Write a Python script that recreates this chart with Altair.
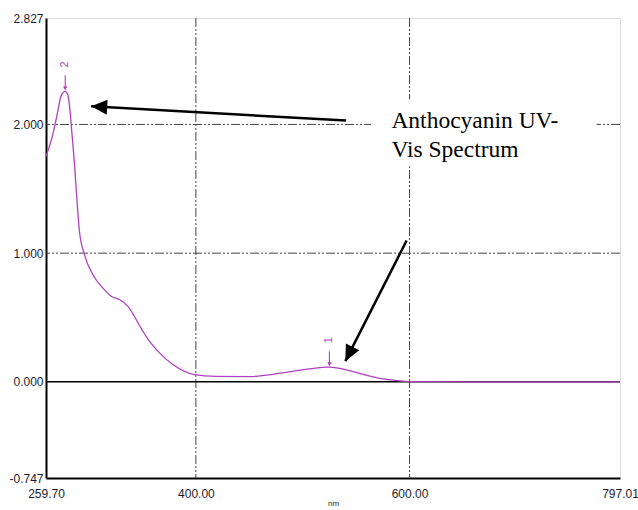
import altair as alt
import pandas as pd

# Spectrum (wavelength nm, absorbance)
wavelength = [259.7, 266.1, 270.7, 273.9, 277.7, 280.3, 282.0, 283.8, 286.4, 288.5,
              291.0, 295.7, 303.5, 312.8, 320.7, 328.5, 336.2, 350.3, 356.5, 365.9,
              378.4, 398.6, 419.0, 450.0, 465.7, 487.5, 506.3, 525.0, 543.7, 559.3,
              574.9, 587.4, 600.0, 650.0, 700.0, 797.01]
absorbance = [1.752, 1.923, 2.100, 2.224, 2.257, 2.225, 2.120, 1.946, 1.688, 1.430,
              1.170, 0.989, 0.834, 0.730, 0.665, 0.640, 0.588, 0.394, 0.316, 0.225,
              0.135, 0.057, 0.042, 0.040, 0.052, 0.078, 0.101, 0.114, 0.088, 0.052,
              0.023, 0.011, 0.002, 0.000, 0.000, 0.000]

# Peak picks
peak_wl = [277.7, 525.0]
peak_abs = [2.257, 0.114]
peak_label = ["2", "1"]

# Axis ticks
x_ticks = [259.70, 400.00, 600.00, 797.01]
y_ticks = [-0.747, 0.0, 1.0, 2.0, 2.827]
x_grid = [400.0, 600.0]
y_grid = [1.0, 2.0]

# Annotation (data coordinates)
note_lines = ["Anthocyanin UV-", "Vis Spectrum"]
note_x = 583.0
note_y = 1.972
box_x = [564.0, 775.0]
box_y = [1.675, 2.195]
arrow_x = [540.6, 597.3]
arrow_y = [2.030, 1.098]
arrow_x2 = [302.0, 539.9]
arrow_y2 = [2.141, 0.161]
arrow_angle = [273.2, 206.9]

spec = pd.DataFrame({"wl": wavelength, "abs": absorbance})
peaks = pd.DataFrame({"wl": peak_wl, "abs": peak_abs, "label": peak_label})
arrows = pd.DataFrame({"x": arrow_x, "y": arrow_y, "x2": arrow_x2, "y2": arrow_y2,
                       "angle": arrow_angle})

xs = alt.Scale(domain=[259.7, 797.01], nice=False, zero=False)
ys = alt.Scale(domain=[-0.747, 2.827], nice=False, zero=False)

PURPLE = "#b040c0"
LABEL_C = "#1c1c2c"

base_line = alt.Chart(spec).mark_line(color=PURPLE, strokeWidth=1.3, interpolate="monotone").encode(
    x=alt.X("wl:Q", scale=xs,
            axis=alt.Axis(values=x_ticks, format=".2f", title="nm", grid=False,
                          ticks=False, labelPadding=10, labelFont="Liberation Sans",
                          labelFontSize=12, labelColor=LABEL_C, domainColor="#000",
                          domainWidth=2, titleFontSize=8, titlePadding=0,
                          titleFont="Liberation Sans", titleFontWeight="normal",
                          titleColor=LABEL_C,
                          labelFlush=False, labelOverlap=False)),
    y=alt.Y("abs:Q", scale=ys,
            axis=alt.Axis(values=y_ticks, grid=False, ticks=False, title=None,
                          labelExpr="datum.value < 0 ? '-' + format(-datum.value, '.3f') : format(datum.value, '.3f')",
                          labelPadding=3, labelFont="Liberation Sans", labelFontSize=12,
                          labelColor=LABEL_C, domainColor="#000", domainWidth=2,
                          labelFlush=False, labelOverlap=False)),
)

vgrid = alt.Chart(pd.DataFrame({"g": x_grid})).mark_rule(
    color="#444", strokeWidth=1, strokeDash=[9, 2, 2, 2, 2, 2]).encode(x=alt.X("g:Q", scale=xs))
hgrid = alt.Chart(pd.DataFrame({"g": y_grid})).mark_rule(
    color="#444", strokeWidth=1, strokeDash=[9, 2, 2, 2, 2, 2]).encode(y=alt.Y("g:Q", scale=ys))
zero = alt.Chart(pd.DataFrame({"g": [0.0]})).mark_rule(
    color="#000", strokeWidth=1.5).encode(y=alt.Y("g:Q", scale=ys))

box = alt.Chart(pd.DataFrame({"x": [box_x[0]], "x2": [box_x[1]], "y": [box_y[0]], "y2": [box_y[1]]})).mark_rect(
    color="white").encode(x=alt.X("x:Q", scale=xs), x2="x2:Q", y=alt.Y("y:Q", scale=ys), y2="y2:Q")

peak_text = alt.Chart(peaks).mark_text(
    color=PURPLE, fontSize=11, angle=270, font="Liberation Sans", yOffset=-27,
    align="center", baseline="middle").encode(
    x=alt.X("wl:Q", scale=xs), y=alt.Y("abs:Q", scale=ys), text="label:N")
peak_tick = alt.Chart(peaks).mark_point(
    shape="M0,-1L0,1M-0.22,0.55L0,1L0.22,0.55", filled=False, color=PURPLE,
    strokeWidth=1.1, size=196, opacity=1, yOffset=-9).encode(
    x=alt.X("wl:Q", scale=xs), y=alt.Y("abs:Q", scale=ys))

shafts = alt.Chart(arrows).mark_rule(color="#000", strokeWidth=2.5).encode(
    x=alt.X("x:Q", scale=xs), y=alt.Y("y:Q", scale=ys), x2="x2:Q", y2="y2:Q")
heads = alt.Chart(arrows).mark_point(
    shape="M0,0L-0.47,1L0.47,1Z", filled=True, color="#000", size=1024, opacity=1).encode(
    x=alt.X("x2:Q", scale=xs), y=alt.Y("y2:Q", scale=ys), angle=alt.Angle("angle:Q", scale=None))

note = alt.Chart(pd.DataFrame({"x": [note_x], "y": [note_y], "t": [note_lines]})).mark_text(
    font="Liberation Serif", fontSize=23.5, lineHeight=29, align="left", baseline="alphabetic",
    color="#000").encode(x=alt.X("x:Q", scale=xs), y=alt.Y("y:Q", scale=ys), text="t")

chart = alt.layer(vgrid, hgrid, zero, box, base_line, peak_tick, peak_text,
                  shafts, heads, note).properties(
    width=574, height=460,
    autosize=alt.AutoSizeParams(type="none"),
    padding={"left": 46, "top": 18, "right": 18, "bottom": 32},
).configure_view(stroke="#333", strokeWidth=1.5).configure(background="white")

chart.save("out.html", embed_options={"renderer": "svg", "actions": False})
